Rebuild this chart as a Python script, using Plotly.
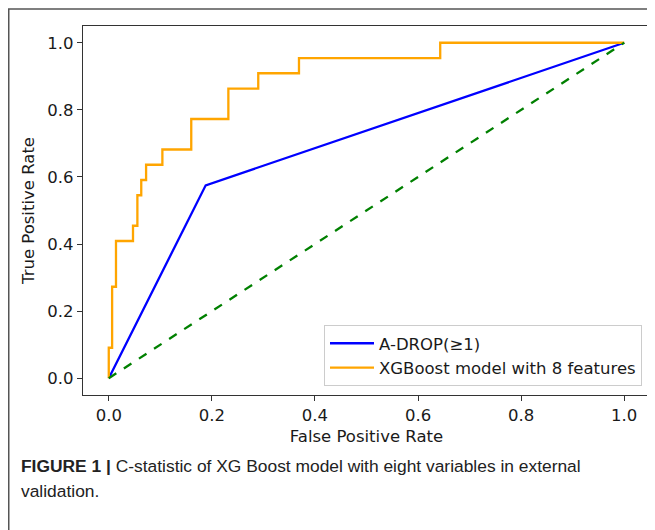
import plotly.graph_objects as go

# XGBoost ROC step points
xgb_fpr = [0.0, 0.0, 0.0065, 0.0065, 0.014, 0.014, 0.047, 0.047, 0.0555, 0.0555,
           0.063, 0.063, 0.0724, 0.0724, 0.104, 0.104, 0.160, 0.160, 0.232, 0.232,
           0.290, 0.290, 0.369, 0.369, 0.643, 0.643, 1.0]
xgb_tpr = [0.0, 0.0909, 0.0909, 0.2727, 0.2727, 0.4091, 0.4091, 0.4545, 0.4545, 0.5455,
           0.5455, 0.5909, 0.5909, 0.6364, 0.6364, 0.6818, 0.6818, 0.7727, 0.7727, 0.8636,
           0.8636, 0.9091, 0.9091, 0.9545, 0.9545, 1.0, 1.0]

adrop_fpr = [0.0, 0.188, 1.0]
adrop_tpr = [0.0, 0.575, 1.0]

diag_x = [0.0, 1.0]
diag_y = [0.0, 1.0]

tick_vals = [0.0, 0.2, 0.4, 0.6, 0.8, 1.0]
tick_text = ["0.0", "0.2", "0.4", "0.6", "0.8", "1.0"]

FONT = "DejaVu Sans"
AX = "#333333"
FS = 16.5

fig = go.Figure()
fig.add_trace(go.Scatter(x=adrop_fpr, y=adrop_tpr, mode="lines", name="A-DROP(≥1)",
                         line=dict(color="#0000FF", width=2.3)))
fig.add_trace(go.Scatter(x=xgb_fpr, y=xgb_tpr, mode="lines", name="XGBoost model with 8 features",
                         line=dict(color="#FFA500", width=2.3)))
fig.add_trace(go.Scatter(x=diag_x, y=diag_y, mode="lines", showlegend=False,
                         line=dict(color="#008000", width=2.3, dash="dash")))

axis_common = dict(range=[-0.05, 1.05], tickvals=tick_vals, ticktext=tick_text,
                   showgrid=False, zeroline=False, showline=True, linecolor=AX, linewidth=1.3,
                   mirror=True, ticks="outside", ticklen=5, tickwidth=1.2, tickcolor=AX,
                   automargin=False,
                   tickfont=dict(family=FONT, size=FS, color="#1a1a1a"))

fig.update_xaxes(**axis_common, title=dict(text="False Positive Rate",
                 font=dict(family=FONT, size=FS, color="#1a1a1a"), standoff=6))
fig.update_yaxes(**axis_common, title=dict(text="True Positive Rate",
                 font=dict(family=FONT, size=FS, color="#1a1a1a"), standoff=8))

# the page adds an 8px body margin; figure coords = page coords - 8
W, H = 647, 522
L, R, T, B = 75, 5, 18, 135
pw, ph = W - L - R, H - T - B

def px(x):
    return (x - L) / pw

def py(y):
    return (H - B - y) / ph

fig.update_layout(
    width=W, height=H,
    margin=dict(l=L, r=R, t=T, b=B, pad=0),
    paper_bgcolor="white", plot_bgcolor="white",
    legend=dict(x=px(634), y=py(378), xanchor="right", yanchor="bottom",
                itemwidth=44,
                bgcolor="rgba(255,255,255,0.8)", bordercolor="#cccccc", borderwidth=1,
                font=dict(family=FONT, size=FS, color="#1a1a1a")),
    shapes=[
        dict(type="line", xref="paper", yref="paper", x0=px(0.75), x1=px(0.75), y0=py(1), y1=py(H),
             line=dict(color="#555555", width=1.5)),
        dict(type="line", xref="paper", yref="paper", x0=px(0), x1=px(W), y0=py(1), y1=py(1),
             line=dict(color="#555555", width=1.5)),
    ],
    annotations=[
        dict(xref="paper", yref="paper", x=px(11), y=py(458), xanchor="left", yanchor="middle",
             align="left", showarrow=False,
             text="<b>FIGURE 1 |</b> C-statistic of XG Boost model with eight variables in external",
             font=dict(family="Liberation Sans", size=17.4, color="#222222")),
        dict(xref="paper", yref="paper", x=px(11), y=py(483), xanchor="left", yanchor="middle",
             align="left", showarrow=False,
             text="validation.",
             font=dict(family="Liberation Sans", size=17.4, color="#222222")),
    ],
)

fig.write_html("out.html")
